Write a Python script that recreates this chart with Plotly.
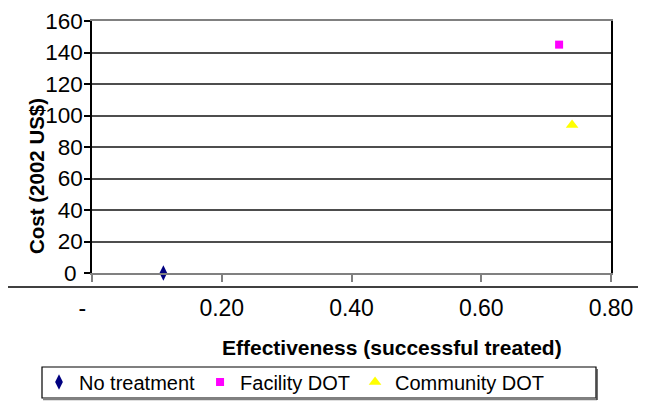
import plotly.graph_objects as go

# Data
series_names = ["No treatment", "Facility DOT", "Community DOT"]
effectiveness = [0.11, 0.72, 0.74]
cost = [0, 145, 94]
marker_symbols = ["diamond-tall", "square", "triangle-up"]
marker_colors = ["#000080", "#FF00FF", "#FFFF00"]
marker_sizes = [11, 8, 11]

x_tickvals = [0, 0.2, 0.4, 0.6, 0.8]
x_ticktext = ["-\u00a0\u00a0\u00a0", "0.20", "0.40", "0.60", "0.80"]
y_tickvals = [0, 20, 40, 60, 80, 100, 120, 140, 160]
y_ticktext = ["0\u00a0", "20", "40", "60", "80", "100", "120", "140", "160"]

FONT = "Liberation Sans, Arial, sans-serif"

# The page body has an 8px default margin; lay the figure out in target
# pixel coordinates and subtract that offset.
OFF = 8
W, H = 646 - OFF, 402 - OFF
left_px, right_px, top_px, bottom_px = 92, 611, 21, 273
ml = left_px - OFF
mr = 646 - right_px
mt = top_px - OFF
mb = 402 - bottom_px
pw = W - ml - mr
ph = H - mt - mb


def px_x(px):
    return (px - OFF - ml) / pw


def px_y(py):
    return (H - mb - (py - OFF)) / ph


fig = go.Figure()
for name, xv, yv, sym, col, sz in zip(series_names, effectiveness, cost,
                                      marker_symbols, marker_colors, marker_sizes):
    fig.add_trace(go.Scatter(
        x=[xv], y=[yv], mode="markers", name=name,
        marker=dict(symbol=sym, color=col, size=sz, line=dict(width=0)),
        cliponaxis=False,
    ))

fig.update_layout(
    template="none",
    width=W, height=H,
    margin=dict(l=ml, r=mr, t=mt, b=mb, pad=0, autoexpand=False),
    paper_bgcolor="white", plot_bgcolor="white",
    font=dict(family=FONT, color="black"),
    showlegend=True,
    legend=dict(
        orientation="h", x=px_x(39), xanchor="left", y=px_y(382), yanchor="middle",
        font=dict(family=FONT, size=20, color="black"),
        bgcolor="rgba(0,0,0,0)", borderwidth=0,
        itemsizing="trace", traceorder="normal",
    ),
    xaxis=dict(
        automargin=False,
        range=[0, 0.8], tickvals=x_tickvals, ticktext=x_ticktext,
        showgrid=False, zeroline=False,
        showline=True, linecolor="#808080", linewidth=1.5, mirror=True,
        ticks="outside", ticklen=7, tickcolor="#808080", tickwidth=1.5,
        ticklabelstandoff=7,
        tickfont=dict(family=FONT, size=23, color="black"),
    ),
    yaxis=dict(
        automargin=False,
        range=[0, 160], tickvals=y_tickvals, ticktext=y_ticktext,
        showgrid=True, gridcolor="#4d4d4d", gridwidth=1.5,
        zeroline=False,
        showline=True, linecolor="black", linewidth=1.5, mirror=True,
        ticks="outside", ticklen=6, tickcolor="black", tickwidth=1.5,
        ticklabelstandoff=-3,
        tickfont=dict(family=FONT, size=22.5, color="black"),
    ),
    annotations=[
        dict(text="<b>Effectiveness (successful treated)</b>", xref="paper", yref="paper",
             x=px_x(391.5), y=px_y(347), xanchor="center", yanchor="middle",
             showarrow=False, font=dict(family=FONT, size=21, color="black")),
        dict(text="<b>Cost (2002 US$)</b>", xref="paper", yref="paper",
             x=px_x(36), y=px_y(176), xanchor="center", yanchor="middle",
             textangle=-90, showarrow=False,
             font=dict(family=FONT, size=20.5, color="black")),
    ],
    shapes=[
        dict(type="line", xref="paper", yref="paper",
             x0=px_x(6), x1=px_x(646), y0=px_y(287), y1=px_y(287),
             line=dict(color="black", width=1.5)),
        dict(type="rect", xref="paper", yref="paper",
             x0=px_x(42), x1=px_x(596), y0=px_y(398), y1=px_y(367),
             line=dict(color="black", width=1.2)),
        dict(type="line", xref="paper", yref="paper",
             x0=px_x(43), x1=px_x(597), y0=px_y(399), y1=px_y(399),
             line=dict(color="#808080", width=2.5)),
        dict(type="line", xref="paper", yref="paper",
             x0=px_x(597), x1=px_x(597), y0=px_y(369), y1=px_y(400),
             line=dict(color="#404040", width=1.5)),
    ],
)

fig.write_html("out.html")
